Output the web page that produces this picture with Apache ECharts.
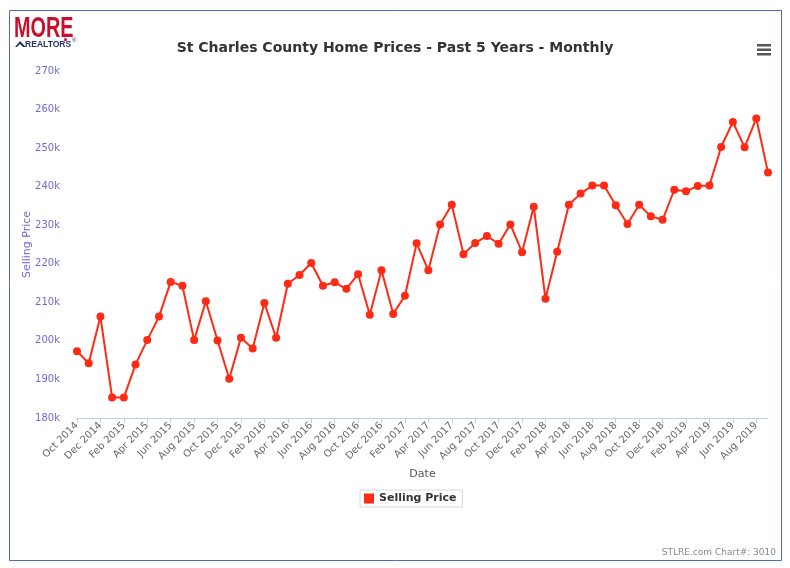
<!DOCTYPE html>
<html>
<head>
<meta charset="utf-8">
<script src="https://cdn.jsdelivr.net/npm/echarts@6/dist/echarts.min.js"></script>
<style>html,body{margin:0;padding:0;background:#fff}#c{width:790px;height:568px}</style>
</head>
<body>
<div id="c"></div>
<script>
var months = ["Oct 2014","Nov 2014","Dec 2014","Jan 2015","Feb 2015","Mar 2015","Apr 2015","May 2015","Jun 2015","Jul 2015","Aug 2015","Sep 2015","Oct 2015","Nov 2015","Dec 2015","Jan 2016","Feb 2016","Mar 2016","Apr 2016","May 2016","Jun 2016","Jul 2016","Aug 2016","Sep 2016","Oct 2016","Nov 2016","Dec 2016","Jan 2017","Feb 2017","Mar 2017","Apr 2017","May 2017","Jun 2017","Jul 2017","Aug 2017","Sep 2017","Oct 2017","Nov 2017","Dec 2017","Jan 2018","Feb 2018","Mar 2018","Apr 2018","May 2018","Jun 2018","Jul 2018","Aug 2018","Sep 2018","Oct 2018","Nov 2018","Dec 2018","Jan 2019","Feb 2019","Mar 2019","Apr 2019","May 2019","Jun 2019","Jul 2019","Aug 2019","Sep 2019"];
var sellingPrice = [197300,194200,206300,185300,185300,193900,200200,206300,215300,214300,200200,210300,200100,190200,200800,198000,209800,200800,214800,217100,220200,214300,215200,213500,217300,206800,218300,207000,211700,225300,218300,230200,235300,222500,225400,227200,225200,230200,223000,234800,210900,223100,235300,238200,240300,240300,235200,230300,235300,232300,231400,239200,238800,240200,240300,250300,256800,250200,257700,243700];
var yTicks = {min:180000, max:270000, step:10000};
var titleText = "St Charles County Home Prices - Past 5 Years - Monthly";
var seriesName = "Selling Price";
var creditText = "STLRE.com Chart#: 3010";

var FONT = "DejaVu Sans";
var chart = echarts.init(document.getElementById('c'));
chart.setOption({
  animation: false,
  backgroundColor: '#fff',
  title: {
    text: titleText, left: 'center', top: 36,
    textStyle: {fontFamily: FONT, fontSize: 14, fontWeight: 'bold', color: '#333'}
  },
  legend: {
    data: [{name: seriesName, icon: 'rect'}],
    left: 360, top: 490,
    itemWidth: 10, itemHeight: 10, itemGap: 6,
    borderColor: '#d8d8d8', borderWidth: 1, borderRadius: 0,
    padding: [3, 6, 3, 4],
    textStyle: {fontFamily: FONT, fontSize: 11, fontWeight: 'bold', color: '#333'}
  },
  grid: {left: 77, right: 22, top: 71, bottom: 150, containLabel: false},
  xAxis: {
    type: 'category', data: months, boundaryGap: false,
    name: 'Date', nameLocation: 'middle', nameGap: 50,
    nameTextStyle: {fontFamily: FONT, fontSize: 11, color: '#555'},
    axisLine: {lineStyle: {color: '#c0d0e0'}},
    axisTick: {lineStyle: {color: '#c0d0e0'}, length: 5, interval: 1},
    axisLabel: {interval: 1, rotate: 45, fontFamily: FONT, fontSize: 10, color: '#666', margin: 6},
    splitLine: {show: false}
  },
  yAxis: {
    type: 'value', min: yTicks.min, max: yTicks.max, interval: yTicks.step,
    name: 'Selling Price', nameLocation: 'middle', nameGap: 44, nameMoveOverlap: false,
    nameTextStyle: {fontFamily: FONT, fontSize: 11, color: '#6b6bd9'},
    axisLine: {show: false}, axisTick: {show: false},
    axisLabel: {formatter: function(v){return (v/1000)+'k';}, fontFamily: FONT, fontSize: 10, color: '#6b6bd9', margin: 17},
    splitLine: {show: false}
  },
  series: [{
    name: seriesName, type: 'line', data: sellingPrice,
    symbol: 'circle', symbolSize: 8, showAllSymbol: true,
    itemStyle: {color: '#ff2a14'},
    lineStyle: {color: '#ff2a14', width: 2}
  }],
  graphic: [
    {type: 'rect', shape: {x: 9.5, y: 10.5, width: 772, height: 550}, style: {fill: 'none', stroke: '#4b6db5', lineWidth: 1}, silent: true},
    {type: 'text', x: 14, y: 14, scaleX: 0.66, style: {text: 'MORE', fontFamily: 'Liberation Sans', fontWeight: 'bold', fontSize: 30, fill: '#c8102e'}},
    {type: 'text', x: 63, y: 27, style: {text: '.', fontFamily: 'Liberation Sans', fontWeight: 'bold', fontSize: 18, fill: '#c8102e'}},
    {type: 'polygon', shape: {points: [[15,47],[20,41],[26,47],[23,47],[20,44],[17,47]]}, style: {fill: '#24336e'}},
    {type: 'text', x: 25, y: 40, scaleX: 0.95, style: {text: 'REALTORS', fontFamily: 'Liberation Sans', fontWeight: 'bold', fontSize: 9, fill: '#24336e'}},
    {type: 'text', x: 72, y: 37, style: {text: '®', fontFamily: 'Liberation Sans', fontSize: 6, fill: '#24336e'}},
    {type: 'rect', shape: {x: 757, y: 44, width: 14, height: 2.5}, style: {fill: '#555'}},
    {type: 'rect', shape: {x: 757, y: 48.5, width: 14, height: 2.5}, style: {fill: '#555'}},
    {type: 'rect', shape: {x: 757, y: 53, width: 14, height: 2.5}, style: {fill: '#555'}},
    {type: 'text', right: 14, top: 548, style: {text: creditText, fontFamily: FONT, fontSize: 9, fill: '#888'}}
  ]
});
</script>
</body>
</html>
